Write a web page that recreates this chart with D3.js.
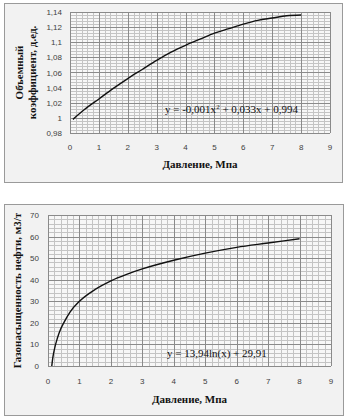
<!DOCTYPE html>
<html><head><meta charset="utf-8">
<script src="https://cdn.jsdelivr.net/npm/d3@7"></script>
<style>body{margin:0;background:#fff}svg{display:block}</style>
</head><body>
<svg id="c" width="348" height="418"></svg>
<script>
// Top chart: volume factor vs pressure
const pressure1 = [0.1, 0.5, 1, 1.5, 2, 2.5, 3, 3.5, 4, 4.5, 5, 5.5, 6, 6.5, 7, 7.5, 8];
const volFactor = [0.998, 1.011, 1.025, 1.039, 1.052, 1.064, 1.076, 1.087, 1.096, 1.104, 1.112, 1.118, 1.124, 1.129, 1.132, 1.135, 1.136];
const yTicks1 = [0.98, 1, 1.02, 1.04, 1.06, 1.08, 1.1, 1.12, 1.14];
// Bottom chart: gas content vs pressure
const pressure2 = [0.12, 0.15, 0.2, 0.3, 0.4, 0.5, 0.7, 1, 1.5, 2, 2.5, 3, 4, 5, 6, 7, 8];
const gasContent = [0, 3.5, 7.5, 13, 17, 20, 25, 30, 35.5, 39.5, 42.5, 45, 49, 52.3, 55, 57, 59];
const yTicks2 = [0, 10, 20, 30, 40, 50, 60, 70];
const xTicks = [0, 1, 2, 3, 4, 5, 6, 7, 8, 9];

const svg = d3.select("#c");
const fmt = v => String(+v.toFixed(2)).replace(".", ",");

function chart(o) {
  const g = svg.append("g");
  g.append("rect").attr("x", o.box[0] + 0.5).attr("y", o.box[1] + 0.5)
    .attr("width", o.box[2] - o.box[0]).attr("height", o.box[3] - o.box[1])
    .attr("fill", "#f2f2f2").attr("stroke", "#9a9a9a");
  const x = d3.scaleLinear().domain([0, 9]).range([o.pl, o.pr]);
  const y = d3.scaleLinear().domain(o.ydom).range([o.pb, o.pt]);
  g.append("rect").attr("x", o.pl).attr("y", o.pt).attr("width", o.pr - o.pl).attr("height", o.pb - o.pt).attr("fill", "#f7f7f7");
  // minor grid
  const nMinorY = o.ydiv * 5;
  const xm = d3.range(0, 9.001, 0.2);
  const ym = d3.range(0, nMinorY + 1).map(i => o.ydom[0] + i * (o.ydom[1] - o.ydom[0]) / nMinorY);
  g.append("g").selectAll("line").data(xm).join("line")
    .attr("x1", d => Math.round(x(d)) + 0.5).attr("x2", d => Math.round(x(d)) + 0.5)
    .attr("y1", o.pt).attr("y2", o.pb).attr("stroke", "#c4c4c4").attr("stroke-width", 1);
  g.append("g").selectAll("line").data(ym).join("line")
    .attr("y1", d => Math.round(y(d)) + 0.5).attr("y2", d => Math.round(y(d)) + 0.5)
    .attr("x1", o.pl).attr("x2", o.pr).attr("stroke", "#c4c4c4").attr("stroke-width", 1);
  // major grid
  g.append("g").selectAll("line").data(xTicks).join("line")
    .attr("x1", d => Math.round(x(d)) + 0.5).attr("x2", d => Math.round(x(d)) + 0.5)
    .attr("y1", o.pt).attr("y2", o.pb).attr("stroke", "#8a8a8a").attr("stroke-width", 1);
  g.append("g").selectAll("line").data(o.yticks).join("line")
    .attr("y1", d => Math.round(y(d)) + 0.5).attr("y2", d => Math.round(y(d)) + 0.5)
    .attr("x1", o.pl).attr("x2", o.pr).attr("stroke", "#8a8a8a").attr("stroke-width", 1);
  // tick labels
  g.append("g").selectAll("text").data(xTicks).join("text")
    .attr("x", d => x(d)).attr("y", o.xly).attr("text-anchor", "middle")
    .attr("font-family", "Liberation Sans, Arial").attr("font-size", 8).attr("fill", "#404040").text(d => d);
  g.append("g").selectAll("text").data(o.yticks).join("text")
    .attr("x", o.ylx).attr("y", d => y(d) + 3).attr("text-anchor", "end")
    .attr("font-family", "Liberation Sans, Arial").attr("font-size", 8).attr("fill", "#404040").text(d => fmt(d));
  // curve
  const line = d3.line().x((d, i) => x(o.xs[i])).y(d => y(d)).curve(d3.curveMonotoneX);
  g.append("path").attr("d", line(o.ys)).attr("fill", "none").attr("stroke", "#111").attr("stroke-width", 1.4);
  // titles
  g.append("text").attr("x", (o.pl + o.pr) / 2).attr("y", o.xty).attr("text-anchor", "middle")
    .attr("font-family", "Liberation Serif, Times New Roman").attr("font-weight", "bold").attr("font-size", 11).attr("fill", "#111").text("Давление, Мпа");
  o.ytitle.forEach((t, i) => {
    g.append("text").attr("transform", `translate(${o.ytx[i]},${(o.pt + o.pb) / 2}) rotate(-90)`)
      .attr("text-anchor", "middle").attr("font-family", "Liberation Serif, Times New Roman")
      .attr("font-weight", "bold").attr("font-size", 11).attr("fill", "#111").text(t);
  });
  const eq = g.append("text").attr("x", o.eq[0]).attr("y", o.eq[1])
    .attr("font-family", "Liberation Serif, Times New Roman").attr("font-size", 11).attr("fill", "#111");
  o.eqParts(eq);
}

chart({
  box: [4, 3, 342, 182], pl: 70, pr: 330, pt: 12, pb: 133,
  ydom: [0.98, 1.14], yticks: yTicks1, ydiv: 8,
  xs: pressure1, ys: volFactor, xly: 150, ylx: 62, xty: 168,
  ytitle: ["Объемный", "коэффициент, д.ед."], ytx: [23, 36],
  eq: [165, 113],
  eqParts: t => {
    t.append("tspan").text("y = -0,001x");
    t.append("tspan").attr("dy", -4).attr("font-size", 7).text("2");
    t.append("tspan").attr("dy", 4).text(" + 0,033x + 0,994");
  }
});
chart({
  box: [4, 204, 343, 415], pl: 48, pr: 331, pt: 215, pb: 366,
  ydom: [0, 70], yticks: yTicks2, ydiv: 7,
  xs: pressure2, ys: gasContent, xly: 384, ylx: 39, xty: 403,
  ytitle: ["Газонасыщенность нефти, м3/т"], ytx: [21],
  eq: [167, 357],
  eqParts: t => { t.text("y = 13,94ln(x) + 29,91"); }
});
</script>
</body></html>
